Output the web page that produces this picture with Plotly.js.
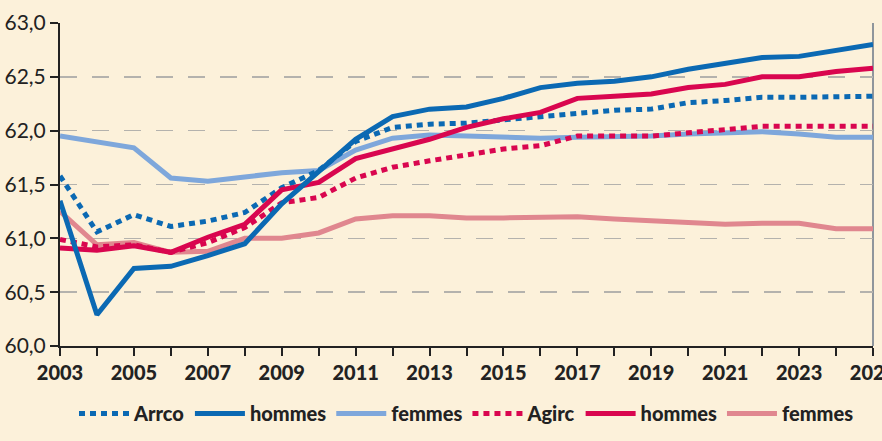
<!DOCTYPE html>
<html>
<head>
<meta charset="utf-8">
<script src="https://cdn.plot.ly/plotly-3.0.1.min.js"></script>
<style>
html,body{margin:0;padding:0;background:#fcf1da;}
#chart{width:882px;height:441px;}
</style>
</head>
<body>
<div id="chart"></div>
<script>
const years = [2003,2004,2005,2006,2007,2008,2009,2010,2011,2012,2013,2014,2015,2016,2017,2018,2019,2020,2021,2022,2023,2024,2025];
const yearLabels = ["2003","","2005","","2007","","2009","","2011","","2013","","2015","","2017","","2019","","2021","","2023","","2025"];

const arrco =         [61.58,61.06,61.22,61.11,61.16,61.24,61.47,61.63,61.90,62.03,62.06,62.07,62.10,62.13,62.17,62.19,62.20,62.26,62.28,62.31,62.31,62.31,62.32];
const arrcoHommes =   [61.35,60.29,60.72,60.74,60.84,60.95,61.32,61.62,61.92,62.13,62.20,62.22,62.30,62.40,62.44,62.46,62.50,62.57,62.63,62.68,62.69,62.74,62.80];
const arrcoFemmes =   [61.95,61.90,61.84,61.56,61.53,61.57,61.61,61.63,61.82,61.93,61.96,61.95,61.94,61.93,61.94,61.94,61.95,61.97,61.98,61.99,61.97,61.94,61.94];
const agirc =         [60.99,60.92,60.94,60.87,60.96,61.10,61.33,61.38,61.56,61.66,61.72,61.78,61.83,61.86,61.95,61.95,61.95,61.98,62.01,62.04,62.04,62.04,62.04];
const agircHommes =   [60.91,60.89,60.93,60.87,61.01,61.13,61.45,61.52,61.74,61.83,61.92,62.03,62.11,62.17,62.30,62.32,62.34,62.40,62.43,62.50,62.50,62.55,62.58];
const agircFemmes =   [61.25,60.94,60.96,60.87,60.88,61.00,61.00,61.05,61.18,61.21,61.21,61.19,61.19,61.20,61.20,61.18,61.16,61.14,61.13,61.14,61.14,61.09,61.09];

const names = ["Arrco","hommes","femmes","Agirc","hommes","femmes"];
const series = [arrco, arrcoHommes, arrcoFemmes, agirc, agircHommes, agircFemmes];
const colors = ["#0b69b3","#0b69b3","#7ea7db","#d9064f","#d9064f","#e0878f"];
const dashes = ["6px,5px","solid","solid","6px,5px","solid","solid"];

const traces = series.map((s,i)=>({
  x: years, y: s, name: names[i], type: 'scatter', mode: 'lines',
  line: {color: colors[i], width: 5, dash: dashes[i]},
  legendrank: i + 1,
  hoverinfo: 'skip'
}));
// draw order: femmes lines underneath
const order = [5,2,3,0,4,1];
const data = order.map(i=>traces[i]);

const layout = {
  width: 882, height: 441,
  margin: {l: 60, r: 9, t: 23, b: 94},
  paper_bgcolor: '#fcf1da',
  plot_bgcolor: 'rgba(0,0,0,0)',
  separators: ',.',
  font: {family: 'Lato, "Open Sans", sans-serif', color: '#222222'},
  showlegend: true,
  legend: {
    orientation: 'h', x: 0.5, xanchor: 'center', y: -0.205, yanchor: 'middle',
    font: {size: 20, weight: 900, color: '#222222'},
    bgcolor: 'rgba(0,0,0,0)', traceorder: 'normal',
    itemwidth: 50, tracegroupgap: 0
  },
  xaxis: {
    range: [2003, 2025],
    tickvals: years, ticktext: yearLabels,
    ticks: 'outside', ticklen: 8, tickwidth: 2, tickcolor: '#222222',
    showline: true, linecolor: '#222222', linewidth: 2,
    showgrid: false, zeroline: false,
    ticklabeloverflow: 'allow',
    tickfont: {size: 20, weight: 900, color: '#222222'},
    fixedrange: true
  },
  yaxis: {
    range: [60, 63],
    dtick: 0.5, tick0: 60, tickformat: '.1f',
    ticks: 'outside', ticklen: 8, tickwidth: 2, tickcolor: '#222222',
    showline: true, linecolor: '#222222', linewidth: 2,
    showgrid: true, gridcolor: '#b4b2ad', gridwidth: 1.5, griddash: '17px,15px',
    zeroline: false,
    tickfont: {size: 21, color: '#222222'},
    fixedrange: true
  },
  shapes: [
    {type: 'line', xref: 'paper', yref: 'paper', x0: 1, x1: 1, y0: 0, y1: 1,
     line: {color: '#8f969c', width: 2}, layer: 'below'}
  ]
};

Plotly.newPlot('chart', data, layout, {displayModeBar: false, staticPlot: true});
</script>
</body>
</html>
